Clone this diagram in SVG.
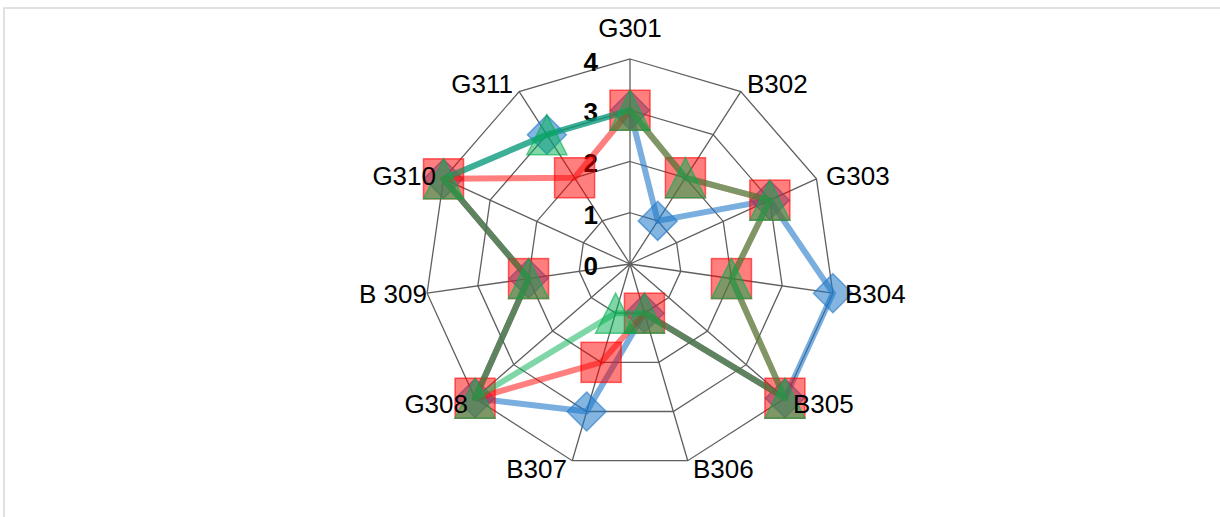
<svg xmlns="http://www.w3.org/2000/svg" xmlns:xlink="http://www.w3.org/1999/xlink" width="1220" height="517" viewBox="0 0 1220 517">
<style>
.lbl{font-family:"Liberation Sans","Open Sans",sans-serif;font-size:26px;fill:#000}
.num{font-family:"Liberation Sans","Open Sans",sans-serif;font-size:26px;font-weight:bold;fill:#000;text-anchor:end}
.grid{fill:none;stroke:#5f5f5f;stroke-width:1.3}
.lb{fill:none;stroke:#1F78C8;stroke-opacity:0.6;stroke-width:6;stroke-linejoin:round}
.lr{fill:none;stroke:#FF0000;stroke-opacity:0.5;stroke-width:6;stroke-linejoin:round}
.lg{fill:none;stroke:#00B050;stroke-opacity:0.5;stroke-width:6;stroke-linejoin:round}
.mb{fill:#1F78C8;fill-opacity:0.55;stroke:#1F78C8;stroke-opacity:0.6;stroke-width:1.5}
.mr{fill:#FF0000;fill-opacity:0.5;stroke:#FF0000;stroke-opacity:0.6;stroke-width:1.5}
.mg{fill:#00B050;fill-opacity:0.5;stroke:#00B050;stroke-opacity:0.6;stroke-width:1.5}
</style>
<defs>
<polygon id="dia" class="mb" points="0,-19.5 19.5,0 0,19.5 -19.5,0"/>
<rect id="sq" class="mr" x="-20" y="-20" width="40" height="40"/>
<polygon id="tri" class="mg" points="0,-20 20,20 -20,20"/>
</defs>
<rect x="4" y="8" width="1240" height="520" fill="#fff" stroke="#d9d9d9" stroke-width="1.6"/>
<g id="grid">
<polygon class="grid" points="630,59 740.83,91.54 816.47,178.84 832.91,293.17 784.93,398.25 687.75,460.7 572.25,460.7 475.07,398.25 427.09,293.17 443.53,178.84 519.17,91.54"/>
<polygon class="grid" points="630,110.25 713.12,134.66 769.86,200.13 782.18,285.88 746.2,364.68 673.32,411.52 586.68,411.52 513.8,364.68 477.82,285.88 490.14,200.13 546.88,134.66"/>
<polygon class="grid" points="630,161.5 685.42,177.77 723.24,221.42 731.46,278.59 707.46,331.12 658.88,362.35 601.12,362.35 552.54,331.12 528.54,278.59 536.76,221.42 574.58,177.77"/>
<polygon class="grid" points="630,212.75 657.71,220.89 676.62,242.71 680.73,271.29 668.73,297.56 644.44,313.17 615.56,313.17 591.27,297.56 579.27,271.29 583.38,242.71 602.29,220.89"/>
<path class="grid" d="M630,264L630,59M630,264L740.83,91.54M630,264L816.47,178.84M630,264L832.91,293.17M630,264L784.93,398.25M630,264L687.75,460.7M630,264L572.25,460.7M630,264L475.07,398.25M630,264L427.09,293.17M630,264L443.53,178.84M630,264L519.17,91.54"/>
</g>
<g id="axis-values">
<text class="num" x="598" y="70.5">4</text>
<text class="num" x="598" y="121">3</text>
<text class="num" x="598" y="172.3">2</text>
<text class="num" x="598" y="224">1</text>
<text class="num" x="598" y="275">0</text>
</g>
<g id="series-blue">
<polygon class="lb" points="630,110.25 657.71,220.89 769.86,200.13 832.91,293.17 784.93,398.25 644.44,313.17 586.68,411.52 475.07,398.25 528.54,278.59 443.53,178.84 546.88,134.66"/>
<use href="#dia" x="630" y="110.25"/><use href="#dia" x="657.71" y="220.89"/><use href="#dia" x="769.86" y="200.13"/><use href="#dia" x="832.91" y="293.17"/><use href="#dia" x="784.93" y="398.25"/><use href="#dia" x="644.44" y="313.17"/><use href="#dia" x="586.68" y="411.52"/><use href="#dia" x="475.07" y="398.25"/><use href="#dia" x="528.54" y="278.59"/><use href="#dia" x="443.53" y="178.84"/><use href="#dia" x="546.88" y="134.66"/>
</g>
<g id="series-red">
<polygon class="lr" points="630,110.25 685.42,177.77 769.86,200.13 731.46,278.59 784.93,398.25 644.44,313.17 601.12,362.35 475.07,398.25 528.54,278.59 443.53,178.84 574.58,177.77"/>
<use href="#sq" x="630" y="110.25"/><use href="#sq" x="685.42" y="177.77"/><use href="#sq" x="769.86" y="200.13"/><use href="#sq" x="731.46" y="278.59"/><use href="#sq" x="784.93" y="398.25"/><use href="#sq" x="644.44" y="313.17"/><use href="#sq" x="601.12" y="362.35"/><use href="#sq" x="475.07" y="398.25"/><use href="#sq" x="528.54" y="278.59"/><use href="#sq" x="443.53" y="178.84"/><use href="#sq" x="574.58" y="177.77"/>
</g>
<g id="series-green">
<polygon class="lg" points="630,110.25 685.42,177.77 769.86,200.13 731.46,278.59 784.93,398.25 644.44,313.17 615.56,313.17 475.07,398.25 528.54,278.59 443.53,178.84 546.88,134.66"/>
<use href="#tri" x="630" y="110.25"/><use href="#tri" x="685.42" y="177.77"/><use href="#tri" x="769.86" y="200.13"/><use href="#tri" x="731.46" y="278.59"/><use href="#tri" x="784.93" y="398.25"/><use href="#tri" x="644.44" y="313.17"/><use href="#tri" x="615.56" y="313.17"/><use href="#tri" x="475.07" y="398.25"/><use href="#tri" x="528.54" y="278.59"/><use href="#tri" x="443.53" y="178.84"/><use href="#tri" x="546.88" y="134.66"/>
</g>
<g id="category-labels">
<text class="lbl" x="630" y="37" text-anchor="middle">G301</text>
<text class="lbl" x="747" y="93">B302</text>
<text class="lbl" x="826" y="185">G303</text>
<text class="lbl" x="845" y="303">B304</text>
<text class="lbl" x="793" y="413">B305</text>
<text class="lbl" x="693" y="478">B306</text>
<text class="lbl" x="567" y="478" text-anchor="end">B307</text>
<text class="lbl" x="468" y="413" text-anchor="end">G308</text>
<text class="lbl" x="427" y="303" text-anchor="end">B 309</text>
<text class="lbl" x="436" y="185" text-anchor="end">G310</text>
<text class="lbl" x="513" y="93" text-anchor="end">G311</text>
</g>
</svg>
